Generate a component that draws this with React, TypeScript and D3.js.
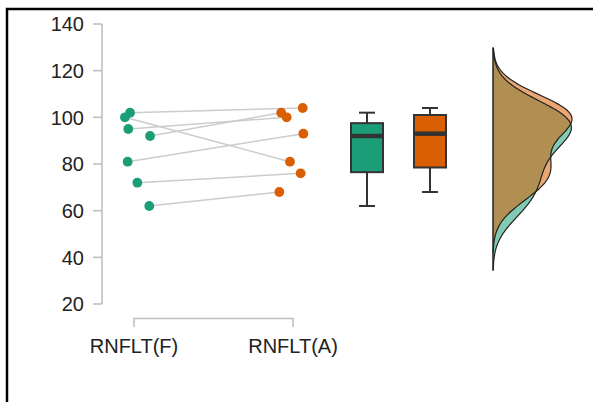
import React from "react";
import * as d3 from "d3";

const categories = ["RNFLT(F)", "RNFLT(A)"];
const valuesF = [102, 100, 95, 92, 81, 72, 62];
const valuesA = [104, 81, 100, 102, 93, 76, 68];
const jitterF = [-0.025, -0.057, -0.036, 0.101, -0.04, 0.021, 0.096];
const jitterA = [0.061, -0.019, -0.04, -0.074, 0.065, 0.048, -0.086];
const yTicks = [20, 40, 60, 80, 100, 120, 140];
const colors = ["#1b9e77", "#d95f02"];

const W = 593;
const H = 402;

function nrd0(v: number[]) {
  const s = d3.deviation(v)!;
  const sorted = [...v].sort((a, b) => a - b);
  const iqr = d3.quantile(sorted, 0.75)! - d3.quantile(sorted, 0.25)!;
  return 0.9 * Math.min(s, iqr / 1.34) * Math.pow(v.length, -0.2);
}

function kde(v: number[]) {
  const bw = nrd0(v);
  const lo = d3.min(v)! - 3 * bw;
  const hi = d3.max(v)! + 3 * bw;
  const n = 200;
  const pts: [number, number][] = [];
  for (let i = 0; i <= n; i++) {
    const t = lo + ((hi - lo) * i) / n;
    const d =
      d3.sum(v, (x) => Math.exp(-0.5 * ((t - x) / bw) ** 2)) /
      (v.length * bw * Math.sqrt(2 * Math.PI));
    pts.push([t, d]);
  }
  return pts;
}

export default function App() {
  const y = d3.scaleLinear().domain([20, 140]).range([304, 24]);
  const x = d3.scalePoint<string>().domain(categories).range([134, 293]);
  const xBox = d3.scalePoint<string>().domain(categories).range([367, 430]);
  const step = 293 - 134;
  const series = [valuesF, valuesA];
  const jit = [jitterF, jitterA];

  const dens = series.map(kde);
  const maxD = d3.max(dens.flat(), (d) => d[1])!;
  const baseX = 493;
  const wScale = d3.scaleLinear().domain([0, maxD]).range([0, 79]);
  const area = d3
    .area<[number, number]>()
    .y((d) => y(d[0]))
    .x0(baseX)
    .x1((d) => baseX + wScale(d[1]))
    .curve(d3.curveBasis);
  const line = d3
    .line<[number, number]>()
    .y((d) => y(d[0]))
    .x((d) => baseX + wScale(d[1]))
    .curve(d3.curveBasis);
  const dLo = d3.min(dens, (d) => d[0][0])!;
  const dHi = d3.max(dens, (d) => d[d.length - 1][0])!;

  const font = "'Liberation Sans', Arial, sans-serif";
  const px = (ci: number, i: number) => x(categories[ci])! + jit[ci][i] * step;

  return (
    <svg
      width={W}
      height={H}
      style={{ position: "absolute", left: 0, top: 0, background: "#fff" }}
      fontFamily={font}
    >
      <path d={`M7,${H + 5} L7,9 L${W + 5},9`} fill="none" stroke="#000" strokeWidth={2.5} />

      {/* y axis */}
      <line x1={102} x2={102} y1={y(140)} y2={y(20)} stroke="#bdbdbd" strokeWidth={1.5} />
      {yTicks.map((t) => (
        <g key={t}>
          <line x1={93} x2={102} y1={y(t)} y2={y(t)} stroke="#bdbdbd" strokeWidth={1.5} />
          <text x={84} y={y(t)} dy="0.36em" textAnchor="end" fontSize={20} fill="#222">
            {t}
          </text>
        </g>
      ))}

      {/* x axis bracket */}
      <path
        d={`M${x(categories[0])},327 L${x(categories[0])},318.5 L${x(categories[1])},318.5 L${x(categories[1])},327`}
        fill="none"
        stroke="#bdbdbd"
        strokeWidth={1.5}
      />
      {categories.map((c) => (
        <text key={c} x={x(c)} y={353} textAnchor="middle" fontSize={20} fill="#222">
          {c}
        </text>
      ))}

      {/* paired lines */}
      {valuesF.map((v, i) => (
        <line
          key={i}
          x1={px(0, i)}
          y1={y(v)}
          x2={px(1, i)}
          y2={y(valuesA[i])}
          stroke="#cccccc"
          strokeWidth={1.5}
        />
      ))}
      {series.map((s, ci) =>
        s.map((v, i) => (
          <circle key={`${ci}-${i}`} cx={px(ci, i)} cy={y(v)} r={4.9} fill={colors[ci]} />
        ))
      )}

      {/* boxplots */}
      {series.map((s, ci) => {
        const sorted = [...s].sort((a, b) => a - b);
        const q1 = d3.quantile(sorted, 0.25)!;
        const med = d3.quantile(sorted, 0.5)!;
        const q3 = d3.quantile(sorted, 0.75)!;
        const mn = sorted[0];
        const mx = sorted[sorted.length - 1];
        const cx = xBox(categories[ci])!;
        const bw = 32;
        const cw = 16;
        return (
          <g key={ci} stroke="#333" strokeWidth={2}>
            <line x1={cx} x2={cx} y1={y(mx)} y2={y(q3)} />
            <line x1={cx} x2={cx} y1={y(q1)} y2={y(mn)} />
            <line x1={cx - cw / 2} x2={cx + cw / 2} y1={y(mx)} y2={y(mx)} />
            <line x1={cx - cw / 2} x2={cx + cw / 2} y1={y(mn)} y2={y(mn)} />
            <rect x={cx - bw / 2} y={y(q3)} width={bw} height={y(q1) - y(q3)} fill={colors[ci]} />
            <line x1={cx - bw / 2} x2={cx + bw / 2} y1={y(med)} y2={y(med)} strokeWidth={4.5} />
          </g>
        );
      })}

      {/* densities */}
      {dens.map((d, ci) => (
        <path key={ci} d={area(d)!} fill={colors[ci]} fillOpacity={0.55} stroke="none" />
      ))}
      {dens.map((d, ci) => (
        <path key={`l${ci}`} d={line(d)!} fill="none" stroke="#222" strokeWidth={1.2} />
      ))}
      <line x1={baseX} x2={baseX} y1={y(dHi)} y2={y(dLo)} stroke="#222" strokeWidth={1.5} />
    </svg>
  );
}
